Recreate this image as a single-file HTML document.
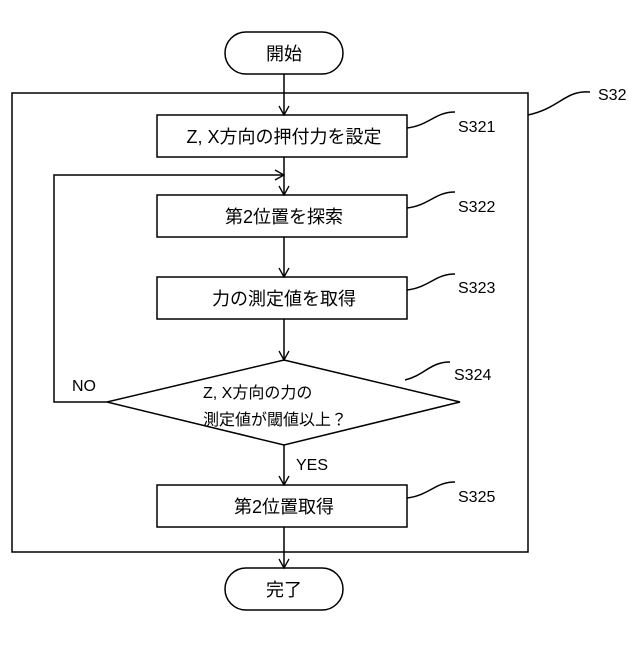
<!DOCTYPE html>
<html><head><meta charset="utf-8"><style>
html,body{margin:0;padding:0;background:#fff}
svg text{font-family:"Liberation Sans","Noto Sans CJK JP",sans-serif;fill:#000}
</style></head><body>
<svg width="640" height="640" viewBox="0 0 640 640" xmlns="http://www.w3.org/2000/svg">
<defs><marker id="a" markerWidth="12" markerHeight="12" refX="10" refY="6" orient="auto" markerUnits="userSpaceOnUse"><path d="M1,1 L10,6 L1,11" fill="none" stroke="#000" stroke-width="1.3"/></marker></defs>
<g fill="none" stroke="#000" stroke-width="1.5">
<rect x="225" y="32" width="118" height="42" rx="21"/>
<rect x="12" y="93" width="516" height="459"/>
<rect x="157" y="115" width="250" height="42"/>
<rect x="157" y="195" width="250" height="42"/>
<rect x="157" y="277" width="250" height="42"/>
<polygon points="284,360 460,402 284,445 107,402"/>
<rect x="157" y="485" width="250" height="42"/>
<rect x="225" y="568" width="118" height="42" rx="21"/>
<line x1="284" y1="74" x2="284" y2="115" marker-end="url(#a)"/>
<line x1="284" y1="157" x2="284" y2="195" marker-end="url(#a)"/>
<line x1="284" y1="237" x2="284" y2="277" marker-end="url(#a)"/>
<line x1="284" y1="319" x2="284" y2="360" marker-end="url(#a)"/>
<line x1="284" y1="445" x2="284" y2="485" marker-end="url(#a)"/>
<line x1="284" y1="527" x2="284" y2="568" marker-end="url(#a)"/>
<polyline points="107,402 54,402 54,175 284,175" marker-end="url(#a)"/>
<path d="M528,115 C560,108 565,90 590,92"/>
<path d="M407,128 C430,125 435,112 455,112"/>
<path d="M407,208 C430,205 435,192 455,192"/>
<path d="M407,290 C430,287 435,274 455,274"/>
<path d="M405,380 C425,375 430,362 450,362"/>
<path d="M407,498 C430,495 435,482 455,482"/>
</g>
<g font-size="18" text-anchor="middle">
<text x="284" y="60">開始</text>
<text x="284" y="143">Z, X方向の押付力を設定</text>
<text x="284" y="223">第2位置を探索</text>
<text x="284" y="305">力の測定値を取得</text>
<text x="284" y="513">第2位置取得</text>
<text x="284" y="596">完了</text>
</g>
<g font-size="16">
<text x="203" y="398">Z, X方向の力の</text>
<text x="203" y="425">測定値が閾値以上？</text>
<text x="72" y="391">NO</text>
<text x="296" y="470">YES</text>
<text x="458" y="132">S321</text>
<text x="458" y="212">S322</text>
<text x="458" y="293">S323</text>
<text x="454" y="380">S324</text>
<text x="458" y="502">S325</text>
<text x="598" y="100">S32</text>
</g>
</svg>
</body></html>
